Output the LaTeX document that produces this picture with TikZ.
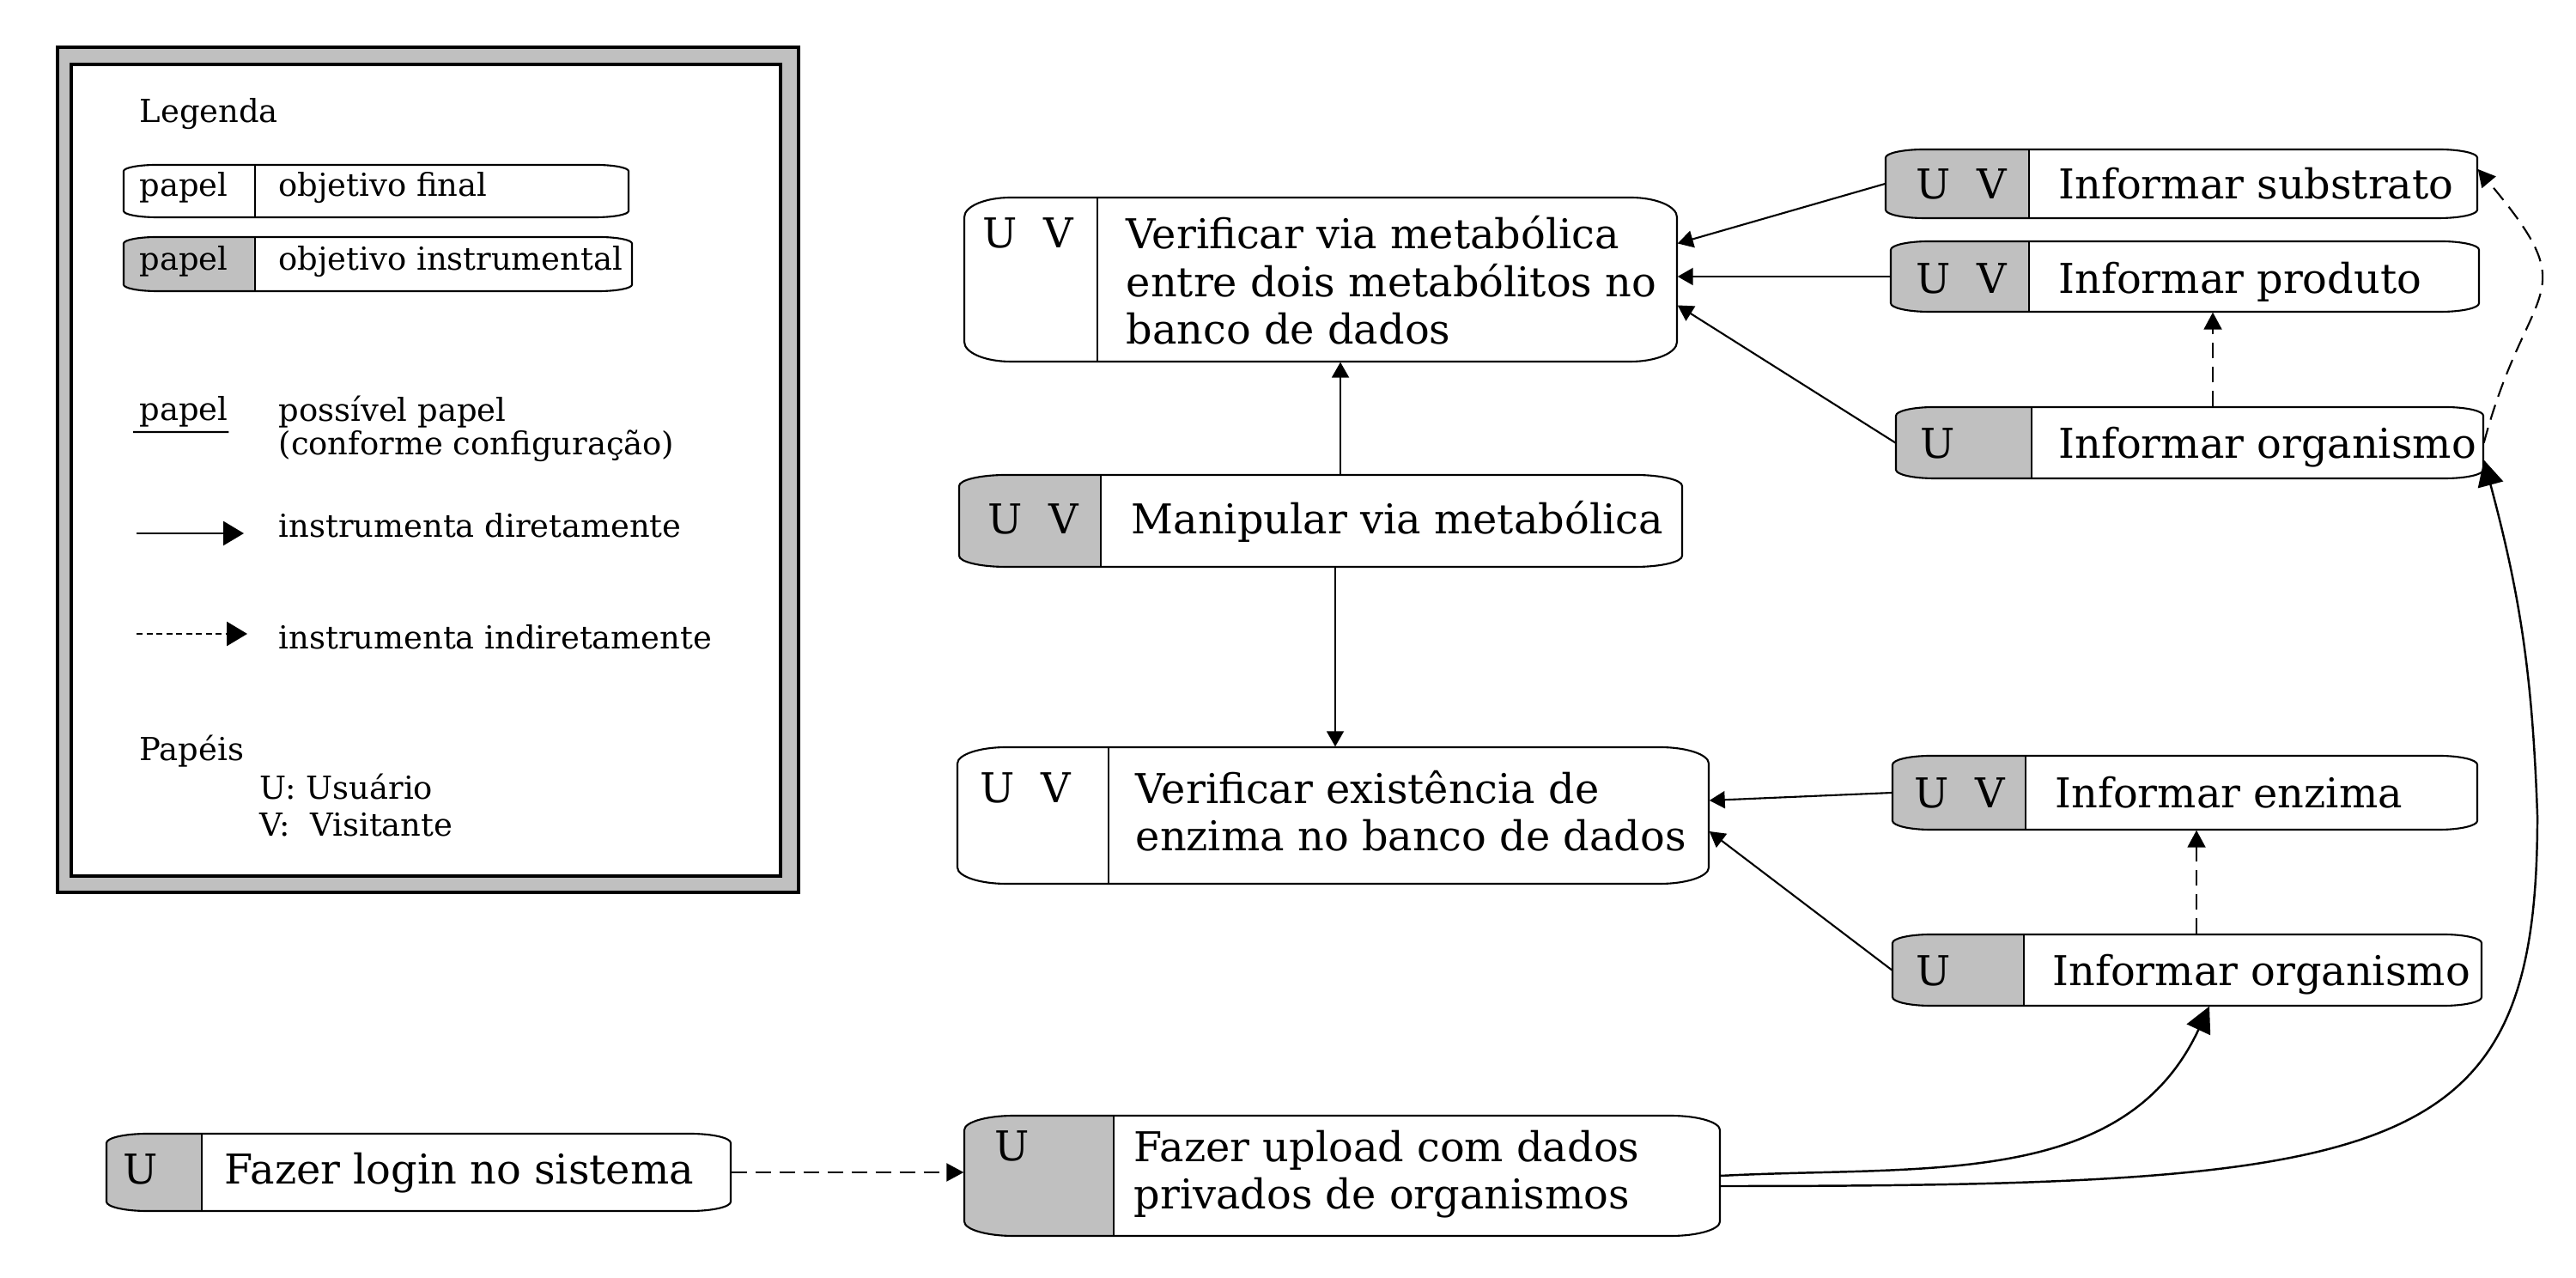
\documentclass[tikz,border=0pt]{standalone}
\usepackage{fontspec}
\setmainfont{DejaVu Serif}
\usepackage{tikz}
\usetikzlibrary{arrows.meta, fit, calc}

\definecolor{rolegray}{HTML}{C0C0C0}
\newcommand{\goalfont}{\fontsize{13.6pt}{15.8pt}\selectfont}
\newcommand{\notefont}{\fontsize{10.5pt}{12.6pt}\selectfont}

% outline of a goal box, ends slightly rounded
\newcommand{\caseoutline}[4]{%
  ({#1+\cbrx},#4) -- ({#3-\cbrx},#4)
  .. controls ({#3-0.45*\cbrx},#4) and (#3,{#4-0.45*\cbry}) .. (#3,{#4-\cbry})
  -- (#3,{#2+\cbry})
  .. controls (#3,{#2+0.45*\cbry}) and ({#3-0.45*\cbrx},#2) .. ({#3-\cbrx},#2)
  -- ({#1+\cbrx},#2)
  .. controls ({#1+0.45*\cbrx},#2) and (#1,{#2+0.45*\cbry}) .. (#1,{#2+\cbry})
  -- (#1,{#4-\cbry})
  .. controls (#1,{#4-0.45*\cbry}) and ({#1+0.45*\cbrx},#4) .. cycle}

% goal box: name, lower left, upper right, divider x, role fill
\newcommand{\casebox}[7]{%
  \pgfmathsetmacro{\cbrx}{0.065*(#4-#2)}%
  \pgfmathsetmacro{\cbry}{0.12*(#5-#3)}%
  \begin{scope}
    \clip \caseoutline{#2}{#3}{#4}{#5};
    \fill[#7] (#2,#3) rectangle (#6,#5);
  \end{scope}
  \draw[box] \caseoutline{#2}{#3}{#4}{#5};
  \draw[divider] (#6,#3) -- (#6,#5);
  \node[fit={(#2,#3) (#4,#5)}, inner sep=0pt] (#1) {};
}

\begin{document}
\begin{tikzpicture}[
  box/.style={line width=0.6pt},
  divider/.style={line width=0.5pt},
  goal/.style={font=\goalfont, anchor=base west, inner sep=0pt, align=left},
  note/.style={font=\notefont, anchor=base west, inner sep=0pt, align=left},
  direct/.style={line width=0.6pt, -{Triangle[length=1.8mm,width=2mm]}},
  indirect/.style={line width=0.6pt, dash pattern=on 1.8mm off 1mm, -{Triangle[length=2mm,width=2.1mm]}},
  strong/.style={line width=0.7pt, -{Triangle[length=3mm,width=3mm]}},
  legarrow/.style={line width=0.8pt, -{Triangle[length=2.4mm,width=2.8mm]}}
]
\useasboundingbox (0,0) rectangle (30,14.87);

% Legend
\draw[line width=1pt, fill=rolegray] (0.67,4.48) rectangle (9.30,14.32);
\draw[line width=0.9pt, fill=white] (0.83,4.67) rectangle (9.09,14.12);
\node[note] (leg-title) at (1.62,13.44) {Legenda};
\casebox{leg-final}{1.44}{12.34}{7.32}{12.95}{2.97}{white}
\node[note] (leg-role1) at (1.62,12.58) {papel};
\node[note] (leg-goal1) at (3.24,12.58) {objetivo final};
\casebox{leg-instr}{1.44}{11.48}{7.36}{12.11}{2.97}{rolegray}
\node[note] (leg-role2) at (1.62,11.72) {papel};
\node[note] (leg-goal2) at (3.24,11.72) {objetivo instrumental};
\node[note] (leg-poss) at (1.62,9.97) {papel};
\draw[line width=0.6pt] ([shift={(-0.07,-0.13)}]leg-poss.base west) -- ([yshift=-1.3mm]leg-poss.base east);
\node[note] (leg-possdesc) at (3.24,9.57) {possível papel\\[-1.4pt](conforme configuração)};
\coordinate (dir-a) at (1.59,8.66);
\coordinate (dir-b) at (2.84,8.66);
\draw[legarrow] (dir-a) -- (dir-b);
\node[note] (leg-direct) at (3.24,8.61) {instrumenta diretamente};
\coordinate (ind-a) at (1.59,7.49);
\coordinate (ind-b) at (2.88,7.49);
\draw[legarrow, dash pattern=on 0.7mm off 0.45mm] (ind-a) -- (ind-b);
\node[note] (leg-indirect) at (3.24,7.31) {instrumenta indiretamente};
\node[note] (leg-papeis) at (1.62,6.01) {Papéis};
\node[note] (leg-u) at (3.02,5.56) {U: Usuário};
\node[note] (leg-v) at (3.02,5.13) {V:\ \ Visitante};

% Final goals
\casebox{vmet}{11.23}{10.66}{19.53}{12.57}{12.78}{white}
\node[goal] (vmet-r) at (11.44,11.98) {U\ \ V};
\node[goal] (vmet-t) at (13.11,10.86) {Verificar via metabólica\\entre dois metabólitos no\\banco de dados};

\casebox{manip}{11.17}{8.27}{19.59}{9.34}{12.82}{rolegray}
\node[goal] (manip-r) at (11.50,8.65) {U\ \ V};
\node[goal] (manip-t) at (13.17,8.65) {Manipular via metabólica};

\casebox{venz}{11.15}{4.58}{19.90}{6.17}{12.91}{white}
\node[goal] (venz-r) at (11.41,5.52) {U\ \ V};
\node[goal] (venz-t) at (13.22,4.96) {Verificar existência de\\enzima no banco de dados};

% Instrumental goals
\casebox{isub}{21.96}{12.33}{28.85}{13.13}{23.63}{rolegray}
\node[goal] (isub-r) at (22.31,12.55) {U\ \ V};
\node[goal] (isub-t) at (23.97,12.55) {Informar substrato};

\casebox{iprod}{22.02}{11.24}{28.87}{12.06}{23.63}{rolegray}
\node[goal] (iprod-r) at (22.31,11.45) {U\ \ V};
\node[goal] (iprod-t) at (23.97,11.45) {Informar produto};

\casebox{iorg1}{22.08}{9.30}{28.92}{10.13}{23.66}{rolegray}
\node[goal] (iorg1-r) at (22.36,9.53) {U};
\node[goal] (iorg1-t) at (23.97,9.53) {Informar organismo};

\casebox{ienz}{22.04}{5.21}{28.85}{6.07}{23.59}{rolegray}
\node[goal] (ienz-r) at (22.29,5.46) {U\ \ V};
\node[goal] (ienz-t) at (23.93,5.46) {Informar enzima};

\casebox{iorg2}{22.04}{3.16}{28.90}{3.99}{23.57}{rolegray}
\node[goal] (iorg2-r) at (22.31,3.39) {U};
\node[goal] (iorg2-t) at (23.90,3.39) {Informar organismo};

\casebox{upload}{11.23}{0.48}{20.03}{1.88}{12.97}{rolegray}
\node[goal] (upload-r) at (11.58,1.35) {U};
\node[goal] (upload-t) at (13.20,0.79) {Fazer upload com dados\\privados de organismos};

\casebox{login}{1.24}{0.77}{8.51}{1.67}{2.35}{rolegray}
\node[goal] (login-r) at (1.43,1.08) {U};
\node[goal] (login-t) at (2.61,1.08) {Fazer login no sistema};

% Instruments directly
\draw[direct] (isub.west) -- ([yshift=4.2mm]vmet.east);
\draw[direct] (iprod.west) -- (vmet.east |- iprod.west);
\draw[direct] (iorg1.west) -- ([yshift=-3mm]vmet.east);
\draw[direct] ([xshift=2.3mm]manip.north) -- ([xshift=2.3mm]manip.north |- vmet.south);
\draw[direct] ([xshift=1.7mm]manip.south) -- ([xshift=1.7mm]manip.south |- venz.north);
\draw[direct] (ienz.west) -- ([yshift=1.75mm]venz.east);
\draw[direct] (iorg2.west) -- ([yshift=-1.85mm]venz.east);

% Instruments indirectly
\draw[indirect] ([xshift=2.7mm]iorg1.north) -- ([xshift=2.7mm]iorg1.north |- iprod.south);
\draw[indirect] ([xshift=1.1mm]iorg2.north) -- ([xshift=1.1mm]iorg2.north |- ienz.south);
\draw[indirect] (iorg1.east) to[out=75, in=-50, looseness=1.6] ([yshift=1.7mm]isub.east);
\draw[indirect] (login.east) -- (login.east -| upload.west);

% Upload curves
\draw[strong] (upload.east) to[out=3, in=-115] ([xshift=2.6mm]iorg2.south);
\coordinate (bend) at (29.55,5.37);
\draw[strong] ([yshift=-1.2mm]upload.east) .. controls +(8,0) and +(0,-4) .. (bend)
  to[out=92, in=-75] ([yshift=-2mm]iorg1.east);
\end{tikzpicture}
\end{document}
